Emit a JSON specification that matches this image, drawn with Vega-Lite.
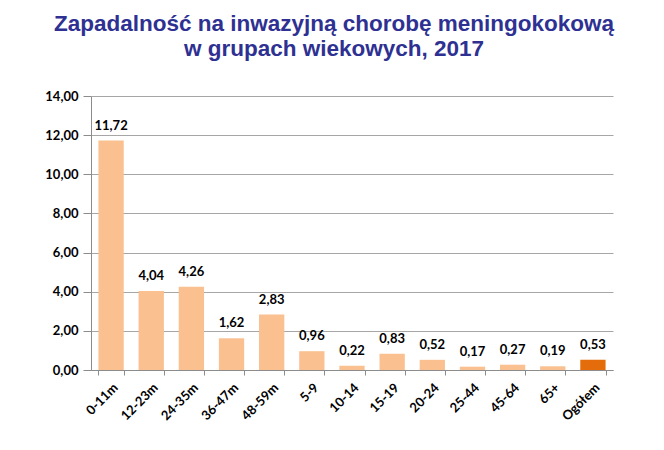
{
  "$schema": "https://vega.github.io/schema/vega-lite/v6.json",
  "autosize": "none",
  "width": 522,
  "height": 274,
  "padding": {"left": 91, "top": 96, "right": 51, "bottom": 80},
  "background": "white",
  "config": {
    "locale": {"number": {"decimal": ",", "thousands": " ", "grouping": [3], "currency": ["", " zł"]}},
    "view": {"stroke": null}
  },
  "title": {
    "text": ["Zapadalność na inwazyjną chorobę meningokokową", "w grupach wiekowych, 2017"],
    "font": "Liberation Sans",
    "fontSize": 22.5,
    "fontWeight": "bold",
    "color": "#2E3192",
    "lineHeight": 25,
    "anchor": "middle",
    "frame": "group",
    "dx": -18,
    "offset": 30
  },
  "data": {
    "values": [
      {"grupa": "0-11m", "wartosc": 11.72, "typ": "g"},
      {"grupa": "12-23m", "wartosc": 4.04, "typ": "g"},
      {"grupa": "24-35m", "wartosc": 4.26, "typ": "g"},
      {"grupa": "36-47m", "wartosc": 1.62, "typ": "g"},
      {"grupa": "48-59m", "wartosc": 2.83, "typ": "g"},
      {"grupa": "5-9", "wartosc": 0.96, "typ": "g"},
      {"grupa": "10-14", "wartosc": 0.22, "typ": "g"},
      {"grupa": "15-19", "wartosc": 0.83, "typ": "g"},
      {"grupa": "20-24", "wartosc": 0.52, "typ": "g"},
      {"grupa": "25-44", "wartosc": 0.17, "typ": "g"},
      {"grupa": "45-64", "wartosc": 0.27, "typ": "g"},
      {"grupa": "65+", "wartosc": 0.19, "typ": "g"},
      {"grupa": "Ogółem", "wartosc": 0.53, "typ": "o"}
    ]
  },
  "encoding": {
    "x": {
      "field": "grupa",
      "type": "nominal",
      "sort": null,
      "scale": {"paddingInner": 0.37, "paddingOuter": 0.185},
      "axis": {
        "title": null,
        "labelAngle": -45,
        "labelFont": "Lato",
        "labelFontWeight": "bold",
        "labelFontSize": 13,
        "labelColor": "#000000",
        "labelPadding": 6,
        "domainColor": "#8C8C8C",
        "tickColor": "#8C8C8C",
        "tickBand": "extent",
        "tickSize": 5,
        "grid": false
      }
    },
    "y": {
      "field": "wartosc",
      "type": "quantitative",
      "scale": {"domain": [0, 14], "nice": false},
      "axis": {
        "title": null,
        "values": [0, 2, 4, 6, 8, 10, 12, 14],
        "format": ".2f",
        "labelFont": "Lato",
        "labelFontWeight": "bold",
        "labelFontSize": 13,
        "labelColor": "#000000",
        "labelPadding": 5,
        "domainColor": "#8C8C8C",
        "tickColor": "#8C8C8C",
        "tickSize": 8,
        "gridColor": "#A6A6A6",
        "gridWidth": 1
      }
    }
  },
  "layer": [
    {
      "mark": {"type": "bar"},
      "encoding": {
        "color": {
          "field": "typ",
          "type": "nominal",
          "scale": {"domain": ["g", "o"], "range": ["#FAC090", "#E46C0A"]},
          "legend": null
        }
      }
    },
    {
      "mark": {"type": "text", "dy": -15, "font": "Lato", "fontWeight": "bold", "fontSize": 13, "color": "#000000"},
      "encoding": {
        "text": {"field": "wartosc", "type": "quantitative", "format": ".2f"}
      }
    }
  ]
}
